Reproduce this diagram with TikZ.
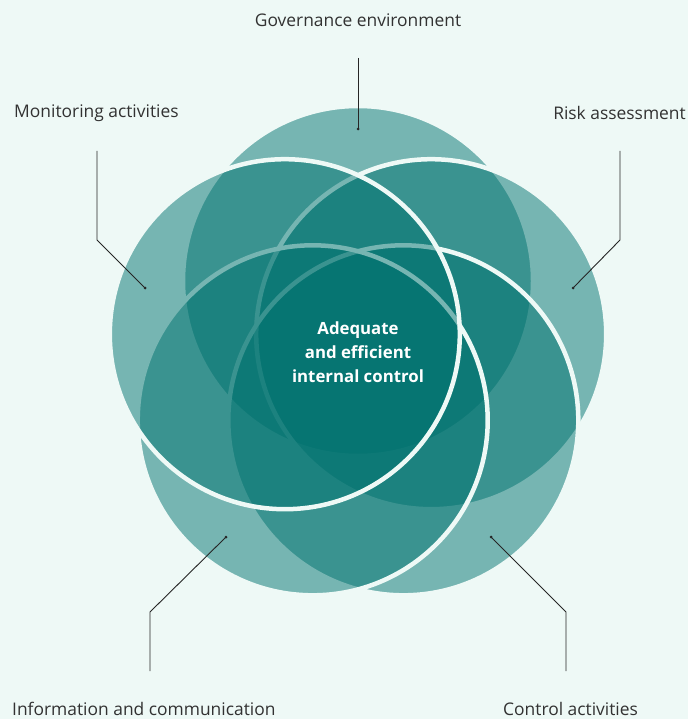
\documentclass[tikz,border=0pt]{standalone}
\usepackage{fontspec}
\setmainfont{Open Sans}
\definecolor{bgc}{RGB}{238,249,246}
\definecolor{petalc}{RGB}{0,114,111}
\definecolor{labc}{RGB}{50,50,50}
\begin{document}
\begin{tikzpicture}[x=1pt,y=-1pt,
  petal/.style={fill=petalc, fill opacity=0.5, draw=bgc, draw opacity=1, line width=4.5pt},
  lab/.style={text=labc, font=\fontsize{17.4}{20}\selectfont, inner sep=0pt},
  pointer/.style={draw=black!85, line width=0.9pt},
  dotmark/.style={circle, fill=black!85, inner sep=0pt, minimum size=3pt}]
\fill[bgc] (0,0) rectangle (688,719);
\useasboundingbox (0,0) rectangle (688,719);
% petals
\path[petal] (358,281) circle[radius=175pt];
\path[petal] (431.2,334.2) circle[radius=175pt];
\path[petal] (403.3,420.3) circle[radius=175pt];
\path[petal] (312.7,420.3) circle[radius=175pt];
\path[petal] (284.8,334.2) circle[radius=175pt];
% centre text
\node[text=white, font=\bfseries\fontsize{16.8}{24}\selectfont, align=center] (core) at (358,352) {Adequate\\and efficient\\internal control};
% labels
\node[lab] (gov) at (358,20) {Governance environment};
\node[lab, anchor=west] (mon) at (14,113) {Monitoring activities};
\node[lab, anchor=east] (risk) at (686,113) {Risk assessment};
\node[lab, anchor=west] (info) at (12,709) {Information and communication};
\node[lab, anchor=west] (ctrl) at (503,709) {Control activities};
% pointer coordinates
\coordinate (g0) at (358,58);
\node[dotmark] (g1) at (358,129) {};
\coordinate (m0) at (97,151);
\coordinate (mk) at (97,240);
\node[dotmark] (m1) at (145,288) {};
\coordinate (r0) at (620,151);
\coordinate (rk) at (620,240);
\node[dotmark] (r1) at (573,288) {};
\coordinate (i0) at (150,671);
\coordinate (ik) at (150,612);
\node[dotmark] (i1) at (226,537) {};
\coordinate (c0) at (566,671);
\coordinate (ck) at (566,612);
\node[dotmark] (c1) at (491,537) {};
\draw[pointer] (g0) -- (g1.center);
\draw[pointer] (m0) -- (mk) -- (m1.center);
\draw[pointer] (r0) -- (rk) -- (r1.center);
\draw[pointer] (i0) -- (ik) -- (i1.center);
\draw[pointer] (c0) -- (ck) -- (c1.center);
\end{tikzpicture}
\end{document}
